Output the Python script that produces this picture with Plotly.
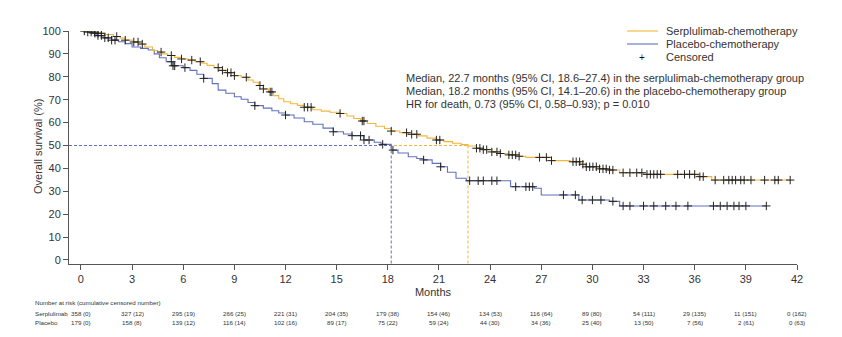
import numpy as np
import plotly.graph_objects as go

# ---------------- data ----------------
serp_t = [0, 0.4, 0.9, 1.4, 1.9, 2.3, 2.6, 3.0, 3.4, 3.75, 4.2, 4.5, 4.8, 5.1, 5.5, 5.9,
          6.3, 6.7, 7.1, 7.4, 7.8, 8.1, 8.5, 9.0, 9.4, 9.8, 10.1, 10.4, 10.7, 11.0, 11.3,
          11.6, 11.9, 12.3, 12.7, 13.1, 13.6, 14.1, 14.6, 15.2, 15.6, 16.0, 16.4, 16.8,
          17.3, 17.8, 18.2, 18.7, 19.2, 19.8, 20.3, 20.8, 21.3, 21.8, 22.3, 22.7, 23.2,
          23.6, 24.1, 24.6, 25.1, 25.6, 26.1, 27.6, 28.7, 29.3, 29.6, 30.4, 30.9, 31.6,
          33.0, 36.2, 37.0, 41.6]
serp_s = [100, 99.5, 99, 98.5, 97.6, 96.9, 96, 95.2, 94.3, 93, 91.5, 90.8, 90, 89.3, 88.5, 87.8,
          87.3, 86.6, 85.9, 85, 84, 82.8, 81.8, 80.5, 79.8, 78.6, 77.6, 76.2, 74.7, 73.4, 71.8,
          70.4, 69.1, 68.2, 67.5, 66.7, 65.6, 65, 64.5, 64, 62.9, 61.8, 60.7, 59.6,
          58.4, 57.4, 56.3, 55.6, 54.9, 54.2, 53.2, 52.4, 51.7, 51, 50.4, 49.8, 48.8,
          48.2, 47.2, 46.5, 45.9, 45.3, 44.8, 43.4, 42.9, 41.8, 40.7, 39.8, 39.3, 38.1,
          37.4, 36.4, 34.9, 34.9]

plac_t = [0, 0.5, 0.9, 1.3, 1.8, 2.2, 2.6, 3.0, 3.5, 3.95, 4.3, 4.6, 5.0, 5.4, 6.0, 6.4,
          6.8, 7.2, 7.7, 8.05, 8.5, 9.0, 9.4, 9.8, 10.2, 10.7, 11.2, 11.6, 12.0, 12.5, 13.1,
          13.6, 14.2, 14.8, 15.4, 15.9, 16.6, 17.2, 17.6, 18.2, 18.6, 19.2, 19.7, 20.1, 20.6,
          21.1, 21.5, 22.0, 22.6, 25.2, 26.6, 27.0, 29.2, 31.0, 31.6, 40.2]
plac_s = [100, 99, 98, 97, 96, 95.3, 94.5, 93, 92.4, 91.7, 90, 88.3, 86.6, 84.8, 84, 82.8,
          81.1, 79.3, 77, 74.2, 72.8, 71.3, 70.2, 68.8, 67.4, 66.3, 65.2, 64.2, 63.3, 62, 60.4,
          59.3, 57.6, 56, 55, 54.3, 52.4, 51.4, 50.5, 48, 46.7, 45.1, 44.3, 43.7, 42.2,
          40.7, 38.3, 35.7, 34.6, 32.0, 31.3, 28.4, 26.2, 25.6, 23.6, 23.6]

serp_cens = [0.2, 0.4, 0.6, 0.8, 1.0, 1.2, 2.1, 2.6, 3.1, 3.35, 3.6, 4.7, 5.3, 5.9, 6.5, 7.0,
             8.05, 8.3, 8.6, 8.8, 9.0, 9.7, 10.5, 10.7, 11.1, 11.2, 13.1, 13.3, 13.5, 15.2,
             16.5, 16.6, 18.2, 19.1, 19.4, 19.7, 20.85, 21.05, 23.2, 23.4, 23.6, 23.8, 24.1,
             24.4, 24.6, 25.1, 25.3, 25.5, 25.7, 26.9, 27.3, 27.6, 28.86, 29.05, 29.25, 29.44,
             29.64, 29.84, 30.03, 30.23, 30.42, 30.62, 30.81, 31.0, 31.2, 31.8, 32.2, 32.6,
             32.9, 33.2, 33.4, 33.6, 33.8, 34.0, 35.0, 35.4, 35.7, 36.0, 36.3, 36.5, 37.2,
             37.7, 38.0, 38.2, 38.4, 38.7, 38.9, 39.3, 40.1, 40.7, 40.9, 41.6]
plac_cens = [0.82, 1.0, 1.2, 1.4, 1.6, 1.8, 2.0, 5.3, 5.4, 5.5, 6.1, 7.2, 10.2, 12.0, 14.8,
             15.9, 16.4, 16.6, 16.9, 17.7, 18.3, 20.1, 21.1, 22.8, 23.3, 23.6, 24.1, 24.4,
             25.5, 26.1, 26.3, 26.5, 28.3, 29.0, 29.4, 30.0, 30.5, 31.2, 31.8, 32.2, 33.0,
             33.6, 34.3, 34.9, 35.6, 37.1, 37.5, 37.9, 38.3, 38.6, 39.0, 40.2]

median_serp = 22.7
median_plac = 18.2

risk_months = [0, 3, 6, 9, 12, 15, 18, 21, 24, 27, 30, 33, 36, 39, 42]
serp_risk = [358, 327, 295, 266, 221, 204, 179, 154, 134, 116, 89, 54, 29, 11, 0]
serp_rcens = [0, 12, 19, 25, 31, 35, 38, 46, 53, 64, 80, 111, 135, 151, 162]
plac_risk = [179, 158, 139, 116, 102, 89, 75, 59, 44, 34, 25, 13, 7, 2, 0]
plac_rcens = [0, 8, 12, 14, 16, 17, 22, 24, 30, 36, 40, 50, 56, 61, 63]

x_ticks = list(range(0, 43, 3))
y_ticks = list(range(0, 101, 10))

ORANGE = "#F4B63A"
BLUE = "#6271BE"
FONT = "Liberation Sans, Arial, sans-serif"
TXT = "#333333"


def step_value(times, surv, t):
    i = np.searchsorted(np.asarray(times), t, side="right") - 1
    return np.asarray(surv)[np.clip(i, 0, len(surv) - 1)]


fig = go.Figure()

# median guide lines
x0, x1 = -0.7, 42
y0 = -1.75
for med, col in [(median_serp, ORANGE), (median_plac, BLUE)]:
    fig.add_trace(go.Scatter(x=[x0, med], y=[50, 50], mode="lines",
                             line=dict(color=col, width=1, dash="3px,2px"),
                             showlegend=False, hoverinfo="skip"))
    fig.add_trace(go.Scatter(x=[med, med], y=[50, y0], mode="lines",
                             line=dict(color=col, width=1, dash="3px,2px"),
                             showlegend=False, hoverinfo="skip"))

fig.add_trace(go.Scatter(x=plac_t, y=plac_s, mode="lines", line=dict(color=BLUE, width=1.1, shape="hv"),
                         showlegend=False))
fig.add_trace(go.Scatter(x=serp_t, y=serp_s, mode="lines", line=dict(color=ORANGE, width=1.1, shape="hv"),
                         showlegend=False))

for cens, times, surv in [(plac_cens, plac_t, plac_s), (serp_cens, serp_t, serp_s)]:
    fig.add_trace(go.Scatter(x=cens, y=step_value(times, surv, np.asarray(cens)), mode="markers",
                             marker=dict(symbol="cross-thin", size=6, line=dict(color="#222222", width=1)),
                             showlegend=False))

annotations = []
shapes = []

W, H = 842, 337
L, R, T, B = 69, 45, 31, 73
pw, ph = W - L - R, H - T - B


def px2paper_x(px):
    return (px - L) / pw


def py2paper_y(py):
    return (H - B - py) / ph


def month2paper_x(m):
    return (m - x0) / (x1 - x0)


# custom legend
leg = [("Serplulimab-chemotherapy", ORANGE, 31), ("Placebo-chemotherapy", BLUE, 44)]
for name, col, py in leg:
    shapes.append(dict(type="line", xref="paper", yref="paper", x0=px2paper_x(627), x1=px2paper_x(658),
                       y0=py2paper_y(py), y1=py2paper_y(py), line=dict(color=col, width=1.1)))
    annotations.append(dict(text=name, xref="paper", yref="paper", x=px2paper_x(664), y=py2paper_y(py),
                            xanchor="left", yanchor="middle", showarrow=False,
                            font=dict(family=FONT, size=11, color=TXT)))
annotations.append(dict(text="+", xref="paper", yref="paper", x=px2paper_x(642), y=py2paper_y(57),
                        xanchor="center", yanchor="middle", showarrow=False,
                        font=dict(family=FONT, size=10, color="#111111")))
annotations.append(dict(text="Censored", xref="paper", yref="paper", x=px2paper_x(664), y=py2paper_y(57),
                        xanchor="left", yanchor="middle", showarrow=False,
                        font=dict(family=FONT, size=11, color=TXT)))

# stats text
stats = ["Median, 22.7 months (95% CI, 18.6–27.4) in the serplulimab-chemotherapy group",
         "Median, 18.2 months (95% CI, 14.1–20.6) in the placebo-chemotherapy group",
         "HR for death, 0.73 (95% CI, 0.58–0.93); p = 0.010"]
for s, py in zip(stats, [78, 91, 104]):
    annotations.append(dict(text=s, xref="paper", yref="paper", x=px2paper_x(404), y=py2paper_y(py),
                            xanchor="left", yanchor="middle", showarrow=False,
                            font=dict(family=FONT, size=11, color=TXT)))

# y-axis title
annotations.append(dict(text="Overall survival (%)", xref="paper", yref="paper", x=px2paper_x(38),
                        y=py2paper_y(147), textangle=-90, xanchor="center", yanchor="middle",
                        showarrow=False, font=dict(family=FONT, size=11, color=TXT)))

# number at risk table
TS = 6.2
annotations.append(dict(text="Number at risk (cumulative censored number)", xref="paper", yref="paper",
                        x=px2paper_x(33), y=py2paper_y(302), xanchor="left", yanchor="middle",
                        showarrow=False, font=dict(family=FONT, size=TS, color=TXT)))
for label, risk, rc, py in [("Serplulimab", serp_risk, serp_rcens, 313), ("Placebo", plac_risk, plac_rcens, 322)]:
    annotations.append(dict(text=label, xref="paper", yref="paper", x=px2paper_x(33), y=py2paper_y(py),
                            xanchor="left", yanchor="middle", showarrow=False,
                            font=dict(family=FONT, size=TS, color=TXT)))
    for m, n, c in zip(risk_months, risk, rc):
        annotations.append(dict(text=f"{n} ({c})", xref="paper", yref="paper", x=month2paper_x(m),
                                y=py2paper_y(py), xanchor="center", yanchor="middle", showarrow=False,
                                font=dict(family=FONT, size=TS, color=TXT)))

fig.update_layout(
    width=W, height=H, margin=dict(l=L, r=R, t=T, b=B),
    paper_bgcolor="white", plot_bgcolor="white",
    font=dict(family=FONT, size=11, color=TXT),
    showlegend=False,
    annotations=annotations, shapes=shapes,
    xaxis=dict(range=[x0, x1], tickvals=x_ticks, ticks="outside", ticklen=5, tickwidth=1,
               tickcolor="#555555", showline=True, linecolor="#555555", linewidth=1,
               showgrid=False, zeroline=False, tickfont=dict(size=11, color=TXT),
               title=dict(text="Months", font=dict(size=11, color=TXT), standoff=4)),
    yaxis=dict(range=[y0, 100], tickvals=y_ticks, ticks="outside", ticklen=5, tickwidth=1,
               tickcolor="#555555", showline=True, linecolor="#555555", linewidth=1,
               showgrid=False, zeroline=False, tickfont=dict(size=11, color=TXT)),
)

fig.write_html("out.html")
